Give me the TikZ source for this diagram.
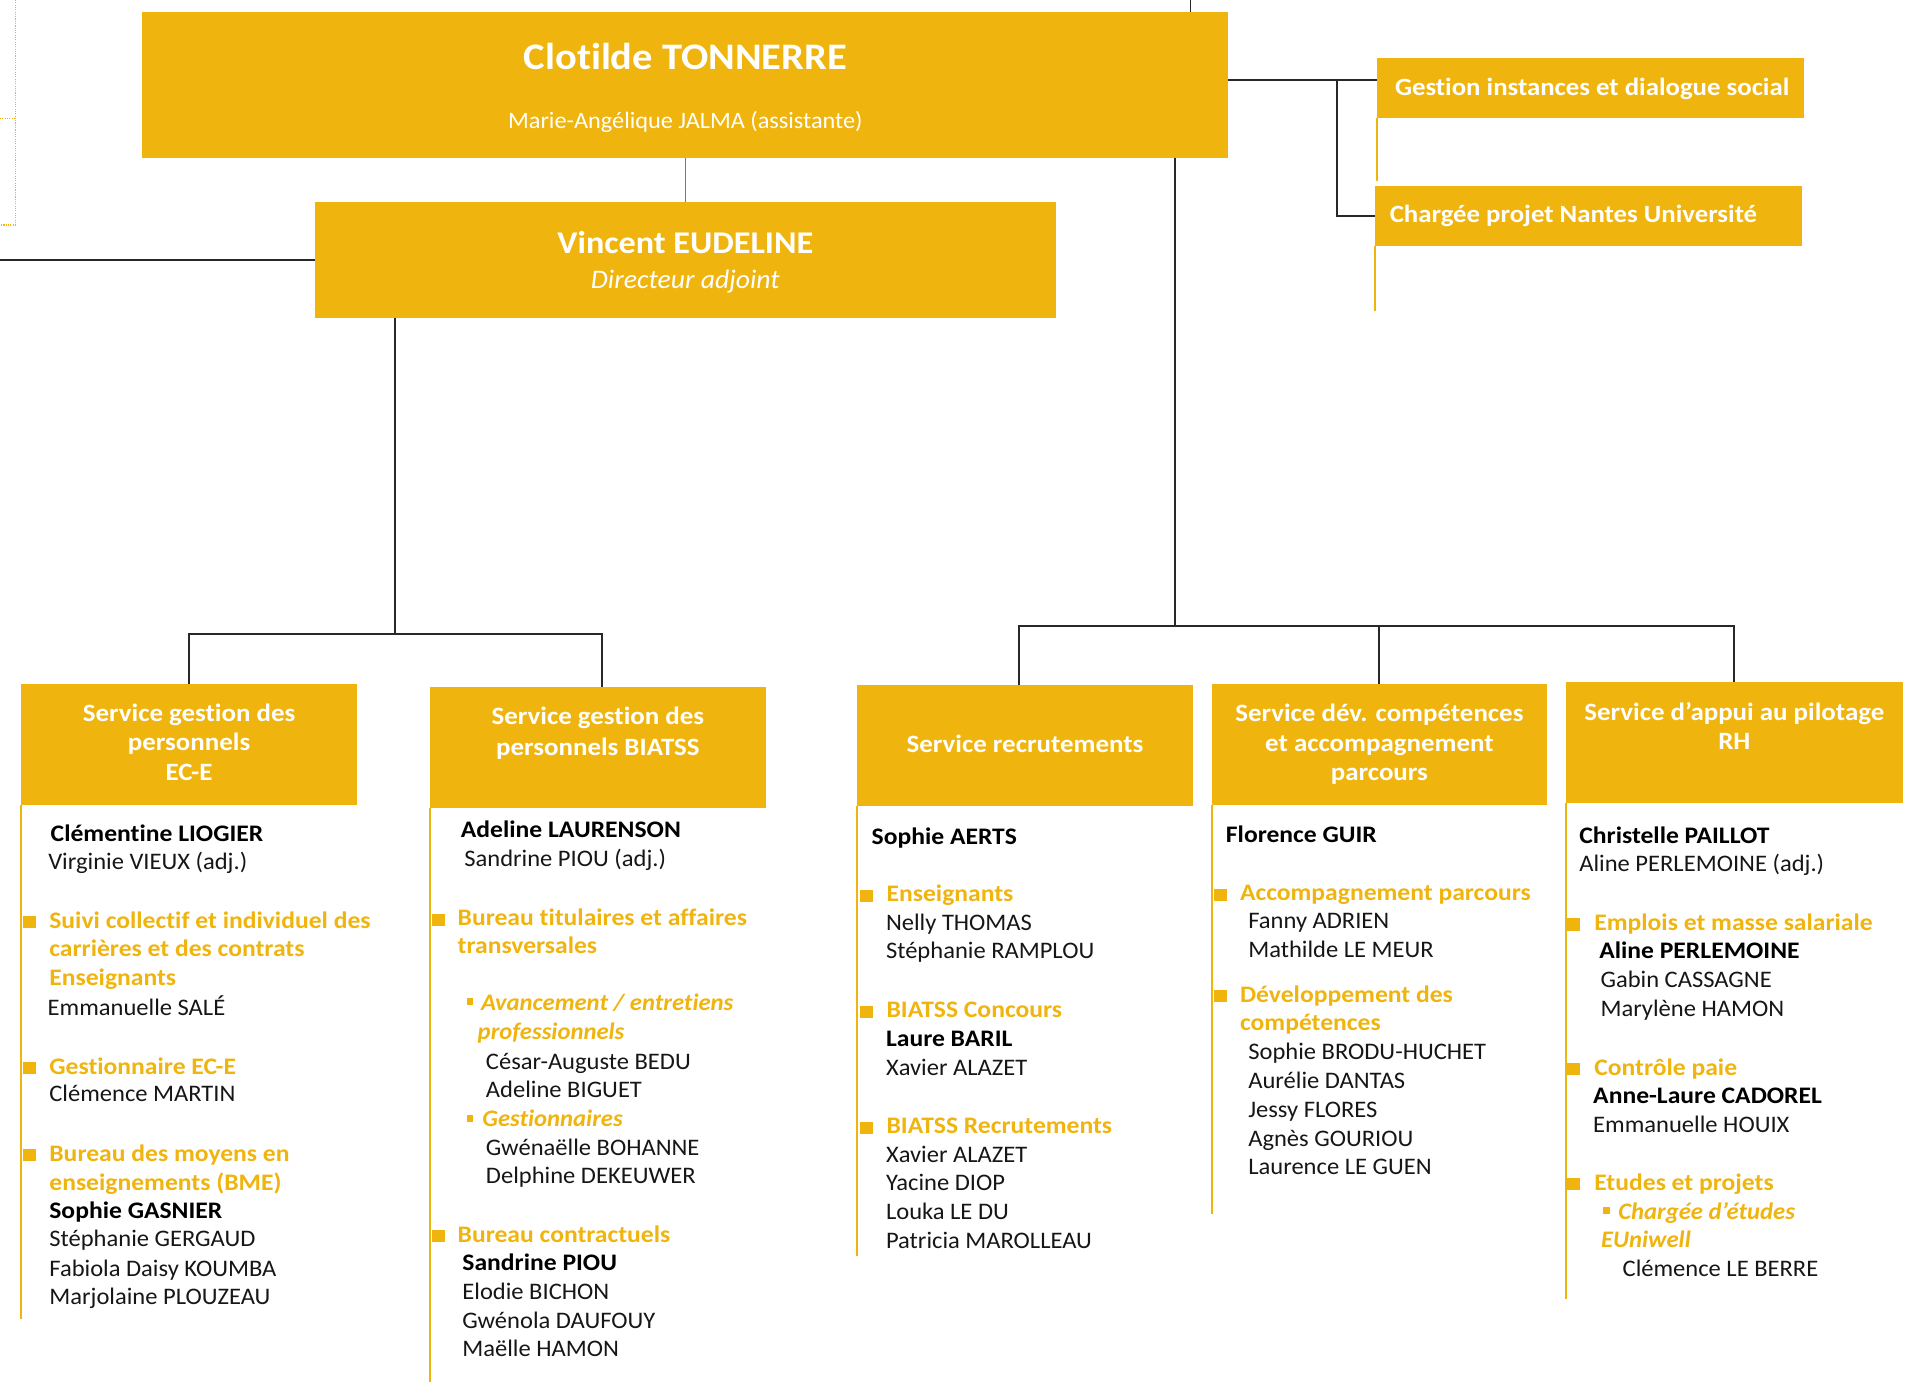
\documentclass[tikz,border=0pt]{standalone}
\usepackage{fontspec}
\setmainfont{Carlito}[Ligatures=NoCommon, FakeStretch=1.035]
\newfontfamily\bfam{Carlito}[Ligatures=NoCommon, FakeStretch=1.08]
\newfontfamily\bifam{Carlito}[Ligatures=NoCommon, FakeStretch=1.04]
\definecolor{gold}{RGB}{240,180,14}
\definecolor{ink}{RGB}{22,22,22}
\definecolor{wirec}{RGB}{40,40,40}
\definecolor{greywire}{RGB}{120,120,120}
\newcommand\bulB[2]{\fill[gold] (#1,#2) rectangle ++(10.5,-10);}
\newcommand\bulS[2]{\fill[gold] (#1,#2) rectangle ++(5.5,-5.5);}
\tikzset{
  wire/.style={draw=wirec, line width=1.5pt},
  goldrule/.style={draw=gold, line width=1.7pt},
  box/.style={fill=gold, inner sep=0pt, outer sep=0pt, anchor=north west},
  lbl/.style={inner sep=0pt, outer sep=0pt},
  tx/.style={lbl, anchor=base west, text=ink, font=\fontsize{19.5}{23}\selectfont},
  nm/.style={lbl, anchor=base west, text=black, font=\bfam\fontsize{19.5}{23}\selectfont\bfseries},
  hd/.style={lbl, anchor=base west, text=gold, font=\bfam\fontsize{19.5}{23}\selectfont\bfseries},
  sub/.style={lbl, anchor=base west, text=gold, font=\bifam\fontsize{19.5}{23}\selectfont\bfseries\itshape},
  hdr/.style={lbl, anchor=base, text=white, font=\bfam\fontsize{20.5}{24}\selectfont\bfseries},
}
\begin{document}
\begin{tikzpicture}[x=1pt,y=-1pt]
\useasboundingbox (0,0) rectangle (1568,1136);

% dotted outline on the left
\draw[gold, densely dotted, line width=0.9pt] (0,97.7) -- (12.5,97.7) (12.5,0) -- (12.5,185) -- (0,185);

% ---------- top boxes ----------
\node[box, minimum width=893pt, minimum height=119.8pt] (clot) at (117,9.9) {};
\node[lbl, anchor=base, text=white, font=\bfam\fontsize{30.8}{36}\selectfont\bfseries] (clotn) at (563.5,57) {Clotilde TONNERRE};
\node[lbl, anchor=base, text=white, font=\fontsize{19.3}{22}\selectfont] (clota) at (563.5,105.5) {Marie-Angélique JALMA (assistante)};

\node[box, minimum width=609pt, minimum height=95.2pt] (vinc) at (259,166) {};
\node[lbl, anchor=base, text=white, font=\bfam\fontsize{26}{30}\selectfont\bfseries] (vincn) at (563.5,208.8) {Vincent EUDELINE};
\node[lbl, anchor=base, text=white, font=\fontsize{22}{26}\selectfont\itshape] (vinct) at (563.5,237.1) {Directeur adjoint};

\node[box, minimum width=351pt, minimum height=49pt] (gest) at (1132,47.7) {};
\node[lbl, anchor=base west, text=white, font=\bfam\fontsize{20.4}{24}\selectfont\bfseries] (gestt) at (1147,78.9) {Gestion instances et dialogue social};
\node[box, minimum width=351.4pt, minimum height=49pt] (charg) at (1130.6,153) {};
\node[lbl, anchor=base west, text=white, font=\bfam\fontsize{20.4}{24}\selectfont\bfseries] (chargt) at (1142.7,183.1) {Chargée projet Nantes Université};

% ---------- top connectors ----------
\coordinate (topin) at (978.8,0);
\draw[wire] (topin) -- (topin |- clot.north);
\draw[draw=greywire, line width=1.3pt] (clot.south) -- (vinc.north);
\coordinate (lft) at (0,213.5);
\draw[wire] (lft) -- (lft -| vinc.west);
\coordinate (rj) at (1099,66);
\draw[wire] (rj -| clot.east) -- (rj -| gest.west);
\draw[wire] (rj) |- (charg.west);
\draw[goldrule] (gest.south west) -- ++(0,52);
\draw[goldrule] (charg.south west) -- ++(0,54);

% ---------- service header boxes ----------
\node[box, minimum width=276.5pt, minimum height=99.6pt] (h1) at (17.3,562.4) {};
\node[box, minimum width=276pt, minimum height=99pt] (h2) at (353.6,565.1) {};
\node[box, minimum width=276.3pt, minimum height=99.2pt] (h3) at (704.9,563.2) {};
\node[box, minimum width=275.4pt, minimum height=99.6pt] (h4) at (996.3,562.4) {};
\node[box, minimum width=276.8pt, minimum height=99pt] (h5) at (1287.6,561) {};

\node[hdr] (h1a) at (155.5,593.4) {Service gestion des};
\node[hdr] (h1b) at (155.5,617.3) {personnels};
\node[hdr] (h1c) at (155.5,641.9) {EC-E};
\node[hdr] (h2a) at (491.6,596.1) {Service gestion des};
\node[hdr] (h2b) at (491.6,620.8) {personnels BIATSS};
\node[hdr] (h3a) at (842.8,618.9) {Service recrutements};
\node[hdr] (h4a) at (1134.2,593.4) {Service dév. compétences};
\node[hdr] (h4b) at (1134.2,618) {et accompagnement};
\node[hdr] (h4c) at (1134.2,641.9) {parcours};
\node[hdr] (h5a) at (1426,592) {Service d’appui au pilotage};
\node[hdr] (h5b) at (1426,616.1) {RH};

% ---------- tree connectors ----------
\coordinate (vj) at (325,521.3);
\coordinate (b2) at (495.3,521.3);
\draw[wire] (vinc.south -| vj) -- (vj);
\draw[wire] (h1.north) |- (b2) -- (b2 |- h2.north);
\coordinate (cj) at (966,514.5);
\coordinate (b3) at (838.1,514.5);
\draw[wire] (cj |- clot.south) -- (cj);
\draw[wire] (b3 |- h3.north) -- (b3) -| (h5.north);
\draw[wire] (h4.north) -- (h4.north |- cj);

% ---------- gold side rules ----------
\draw[goldrule] (h1.south west) -- (h1.south west |- 0,1084.8);
\draw[goldrule] (h2.south west) -- (h2.south west |- 0,1136);
\draw[goldrule] (h3.south west) -- (h3.south west |- 0,1032.7);
\draw[goldrule] (h4.south west) -- (h4.south west |- 0,998);
\draw[goldrule] (h5.south west) -- (h5.south west |- 0,1068.3);

% ---------- column 1 ----------
\node[nm] (c1a) at (41.7,691.5) {Clémentine LIOGIER};
\node[tx] (c1b) at (39.7,715.3) {Virginie VIEUX (adj.)};
\bulB{19.2}{763.3}
\node[hd] (c1c) at (40.6,763.3) {Suivi collectif et individuel des};
\node[hd] (c1d) at (40.6,786.6) {carrières et des contrats};
\node[hd] (c1e) at (40.6,810.4) {Enseignants};
\node[tx] (c1f) at (39.2,834.6) {Emmanuelle SALÉ};
\bulB{19.2}{883.1}
\node[hd] (c1g) at (40.6,883.1) {Gestionnaire EC-E};
\node[tx] (c1h) at (40.6,905.8) {Clémence MARTIN};
\bulB{19.2}{954.6}
\node[hd] (c1i) at (40.6,954.6) {Bureau des moyens en};
\node[hd] (c1j) at (40.6,978.5) {enseignements (BME)};
\node[nm] (c1k) at (40.6,1001.8) {Sophie GASNIER};
\node[tx] (c1l) at (40.6,1025.1) {Stéphanie GERGAUD};
\node[tx] (c1m) at (40.6,1049.2) {Fabiola Daisy KOUMBA};
\node[tx] (c1n) at (40.6,1072.2) {Marjolaine PLOUZEAU};

% ---------- column 2 ----------
\node[nm] (c2a) at (379,688.8) {Adeline LAURENSON};
\node[tx] (c2b) at (381.8,712.6) {Sandrine PIOU (adj.)};
\bulB{355.5}{761.1}
\node[hd] (c2c) at (376.3,761.1) {Bureau titulaires et affaires};
\node[hd] (c2d) at (376.3,783.9) {transversales};
\bulS{383.7}{826.4}
\node[sub] (c2e) at (395.5,831) {Avancement / entretiens};
\node[sub] (c2f) at (392.8,854.6) {professionnels};
\node[tx] (c2g) at (399.6,879) {César-Auguste BEDU};
\node[tx] (c2h) at (399.6,902.3) {Adeline BIGUET};
\bulS{383.7}{922.3}
\node[sub] (c2i) at (396.6,926.4) {Gestionnaires};
\node[tx] (c2j) at (399.6,949.7) {Gwénaëlle BOHANNE};
\node[tx] (c2k) at (399.6,973) {Delphine DEKEUWER};
\bulB{355.5}{1021.5}
\node[hd] (c2l) at (376.3,1021.5) {Bureau contractuels};
\node[nm] (c2m) at (380.2,1044.8) {Sandrine PIOU};
\node[tx] (c2n) at (380.2,1068.4) {Elodie BICHON};
\node[tx] (c2o) at (380.2,1092.2) {Gwénola DAUFOUY};
\node[tx] (c2p) at (380.2,1115.5) {Maëlle HAMON};

% ---------- column 3 ----------
\node[nm] (c3a) at (716.7,694) {Sophie AERTS};
\bulB{707.1}{741.4}
\node[hd] (c3b) at (729,741.4) {Enseignants};
\node[tx] (c3c) at (728.5,764.7) {Nelly THOMAS};
\node[tx] (c3d) at (728.5,788.5) {Stéphanie RAMPLOU};
\bulB{707.1}{836.8}
\node[hd] (c3e) at (729,836.8) {BIATSS Concours};
\node[nm] (c3f) at (728.5,860.6) {Laure BARIL};
\node[tx] (c3g) at (728.5,884.3) {Xavier ALAZET};
\bulB{707.1}{932.3}
\node[hd] (c3h) at (729,932.3) {BIATSS Recrutements};
\node[tx] (c3i) at (728.5,955.5) {Xavier ALAZET};
\node[tx] (c3j) at (728.5,979) {Yacine DIOP};
\node[tx] (c3k) at (728.5,1002.7) {Louka LE DU};
\node[tx] (c3l) at (728.5,1026.4) {Patricia MAROLLEAU};

% ---------- column 4 ----------
\node[nm] (c4a) at (1008,692.9) {Florence GUIR};
\bulB{998.2}{740.6}
\node[hd] (c4b) at (1019.6,740.6) {Accompagnement parcours};
\node[tx] (c4c) at (1026.4,763.3) {Fanny ADRIEN};
\node[tx] (c4d) at (1026.4,787.1) {Mathilde LE MEUR};
\bulB{998.2}{824.2}
\node[hd] (c4e) at (1019.6,824.2) {Développement des};
\node[hd] (c4f) at (1019.6,847.7) {compétences};
\node[tx] (c4g) at (1026.4,871.3) {Sophie BRODU-HUCHET};
\node[tx] (c4h) at (1026.4,895) {Aurélie DANTAS};
\node[tx] (c4i) at (1026.4,918.7) {Jessy FLORES};
\node[tx] (c4j) at (1026.4,942.4) {Agnès GOURIOU};
\node[tx] (c4k) at (1026.4,966.1) {Laurence LE GUEN};

% ---------- column 5 ----------
\node[nm] (c5a) at (1298.6,693.4) {Christelle PAILLOT};
\node[tx] (c5b) at (1298.6,716.7) {Aline PERLEMOINE (adj.)};
\bulB{1288.5}{765.2}
\node[hd] (c5c) at (1310.9,765.2) {Emplois et masse salariale};
\node[nm] (c5d) at (1315,788) {Aline PERLEMOINE};
\node[tx] (c5e) at (1316,811.8) {Gabin CASSAGNE};
\node[tx] (c5f) at (1316,835.6) {Marylène HAMON};
\bulB{1288.5}{883.9}
\node[hd] (c5g) at (1310.9,883.9) {Contrôle paie};
\node[nm] (c5h) at (1310,907.2) {Anne-Laure CADOREL};
\node[tx] (c5i) at (1310,931) {Emmanuelle HOUIX};
\bulB{1288.5}{978.5}
\node[hd] (c5j) at (1310.9,978.5) {Etudes et projets};
\bulS{1318.3}{998.3}
\node[sub] (c5k) at (1330.6,1002.3) {Chargée d’études};
\node[sub] (c5l) at (1316.4,1025.6) {EUniwell};
\node[tx] (c5m) at (1334.2,1049.2) {Clémence LE BERRE};
\end{tikzpicture}
\end{document}
